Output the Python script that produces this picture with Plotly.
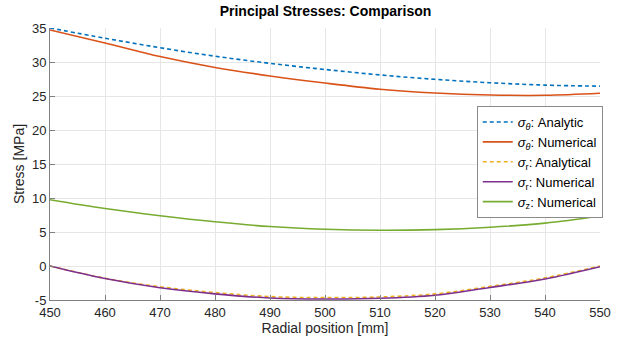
import plotly.graph_objects as go

r_mm = [450, 460, 470, 480, 490, 500, 510, 520, 530, 540, 550]
theta_analytic = [35.0, 33.5, 32.1, 30.85, 29.8, 28.9, 28.1, 27.45, 26.95, 26.6, 26.45]
theta_numerical = [34.7, 32.8, 30.8, 29.2, 27.95, 26.9, 26.0, 25.45, 25.15, 25.1, 25.4]
r_analytical = [0.0, -1.8, -3.05, -3.9, -4.5, -4.65, -4.55, -4.1, -3.0, -1.75, 0.0]
r_numerical = [0.0, -1.85, -3.2, -4.1, -4.7, -4.85, -4.75, -4.3, -3.15, -1.9, -0.1]
z_numerical = [9.75, 8.45, 7.4, 6.5, 5.8, 5.4, 5.25, 5.35, 5.7, 6.3, 7.35]

x_ticks = [450, 460, 470, 480, 490, 500, 510, 520, 530, 540, 550]
y_ticks = [-5, 0, 5, 10, 15, 20, 25, 30, 35]
y_tick_text = ["-5", "0", "5", "10", "15", "20", "25", "30", "35"]

FONT = "Arial, Liberation Sans, Helvetica, sans-serif"

fig = go.Figure()
series = [
    (theta_analytic, "<i>σ</i><sub><i>θ</i></sub>: Analytic", "#0072BD", "4px,3px"),
    (theta_numerical, "<i>σ</i><sub><i>θ</i></sub>: Numerical", "#D95319", "solid"),
    (r_analytical, "<i>σ</i><sub>r</sub>: Analytical", "#EDB120", "4px,3px"),
    (r_numerical, "<i>σ</i><sub>r</sub>: Numerical", "#7E2F8E", "solid"),
    (z_numerical, "<i>σ</i><sub>z</sub>: Numerical", "#77AC30", "solid"),
]
for ys, name, color, dash in series:
    fig.add_trace(go.Scatter(
        x=r_mm, y=ys, mode="lines", name=name,
        line=dict(color=color, width=1.6, dash=dash, shape="spline"),
    ))

fig.update_layout(
    width=632, height=343,
    margin=dict(l=50, r=32, t=28, b=43),
    paper_bgcolor="white", plot_bgcolor="white",
    font=dict(family=FONT, size=14, color="#262626"),
    title=dict(text="<b>Principal Stresses: Comparison</b>", x=0.515, xanchor="center",
               y=0.983, yanchor="top", font=dict(size=14, color="#000000")),
    legend=dict(
        x=1.005, xanchor="right", y=0.713, yanchor="top",
        bgcolor="white", bordercolor="#8a8a8a", borderwidth=1,
        font=dict(size=13, color="#000000"),
        itemwidth=30, tracegroupgap=0,
    ),
    showlegend=True,
)
fig.update_xaxes(
    range=[450, 550], tickvals=x_ticks, ticks="inside", ticklen=5, tickcolor="#808080",
    showline=True, linecolor="#808080", linewidth=1, mirror=False,
    showgrid=True, gridcolor="#e6e6e6", gridwidth=1, zeroline=False,
    title=dict(text="Radial position [mm]", standoff=3, font=dict(size=14)),
    tickfont=dict(size=13, color="#262626"),
)
fig.update_yaxes(
    range=[-5, 35], tickvals=y_ticks, ticktext=y_tick_text, ticks="inside", ticklen=5,
    tickcolor="#808080",
    showline=True, linecolor="#808080", linewidth=1, mirror=False,
    showgrid=True, gridcolor="#e6e6e6", gridwidth=1, zeroline=False,
    title=dict(text="Stress [MPa]", standoff=4, font=dict(size=14)),
    tickfont=dict(size=13, color="#262626"),
)

fig.write_html("out.html")
